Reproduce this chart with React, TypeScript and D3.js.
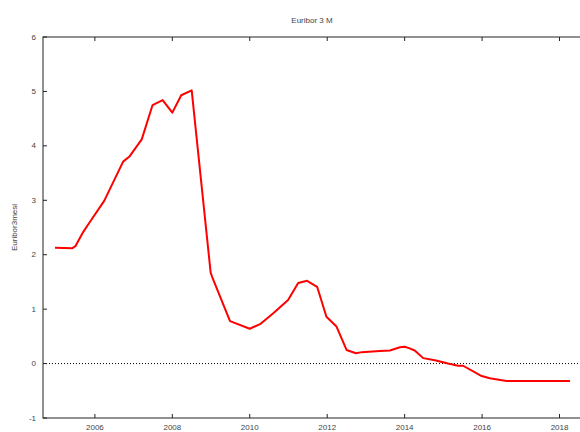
import React from "react"
import { scaleLinear, line } from "d3"

const width = 580
const height = 432

// decimal year and 3-month Euribor rate (%)
const years = [
  2004.97, 2005.42, 2005.5, 2005.7, 2005.87, 2006.24, 2006.73, 2006.9, 2007.21,
  2007.49, 2007.75, 2008.0, 2008.23, 2008.5, 2008.99, 2009.03, 2009.49, 2010.0,
  2010.28, 2010.6, 2010.99, 2011.25, 2011.48, 2011.74, 2011.98, 2012.24, 2012.5,
  2012.74, 2012.89, 2013.36, 2013.62, 2013.88, 2014.0, 2014.13, 2014.26, 2014.48,
  2014.78, 2015.12, 2015.38, 2015.51, 2015.99, 2016.2, 2016.63, 2016.72, 2018.27
]
const rates = [
  2.13, 2.12, 2.16, 2.42, 2.6, 2.99, 3.71, 3.81, 4.12,
  4.75, 4.84, 4.61, 4.93, 5.02, 1.67, 1.59, 0.78, 0.64,
  0.73, 0.92, 1.17, 1.48, 1.52, 1.41, 0.86, 0.68, 0.25,
  0.19, 0.21, 0.23, 0.24, 0.3, 0.31, 0.28, 0.24, 0.1,
  0.06, 0.0, -0.04, -0.04, -0.23, -0.27, -0.32, -0.32, -0.32
]
const yTicks = [-1, 0, 1, 2, 3, 4, 5, 6]
const xTicks = [2006, 2008, 2010, 2012, 2014, 2016, 2018]

const title = "Euribor 3 M"
const yLabel = "Euribor3mesi"

const font = "'Liberation Sans', Arial, sans-serif"
const textColor = "#444"

function App() {
  const xScale = scaleLinear().domain([2004.66, 2018.8]).range([43, 590.5])
  const yScale = scaleLinear().domain([-1, 6]).range([418, 37])

  const [x0, x1] = xScale.range()
  const [yb, yt] = yScale.range()

  const path = line<number>()
    .x((d, i) => xScale(years[i]))
    .y((d) => yScale(d))(rates)

  return (
    <svg
      width={width}
      height={height}
      style={{ position: "absolute", left: 0, top: 0, background: "#fff" }}
      fontFamily={font}
    >
      <text x={312} y={23} fontSize={8} fill={textColor} textAnchor="middle">
        {title}
      </text>
      <text
        transform={`translate(17, ${(yb + yt) / 2}) rotate(-90)`}
        fontSize={8}
        fill={textColor}
        textAnchor="middle"
      >
        {yLabel}
      </text>

      <line
        x1={x0}
        x2={x1}
        y1={yScale(0)}
        y2={yScale(0)}
        stroke="#000"
        strokeDasharray="1,2"
      />

      {yTicks.map((t) => (
        <g key={t} transform={`translate(0, ${yScale(t)})`}>
          <line x1={x0} x2={x0 + 4} stroke="#222" />
          <line x1={x1} x2={x1 - 4} stroke="#222" />
          <text x={36} dy="0.32em" fontSize={8} fill={textColor} textAnchor="end">
            {t}
          </text>
        </g>
      ))}
      {xTicks.map((t) => (
        <g key={t} transform={`translate(${xScale(t)}, 0)`}>
          <line y1={yb} y2={yb - 4} stroke="#222" />
          <line y1={yt} y2={yt + 4} stroke="#222" />
          <text y={432} dy="-0.3em" fontSize={8} fill={textColor} textAnchor="middle">
            {t}
          </text>
        </g>
      ))}

      <rect
        x={x0}
        y={yt}
        width={x1 - x0}
        height={yb - yt}
        fill="none"
        stroke="#222"
        strokeWidth={1}
      />

      <path d={path || ""} fill="none" stroke="#ff0000" strokeWidth={2} strokeLinejoin="round" />
    </svg>
  )
}

export default App
